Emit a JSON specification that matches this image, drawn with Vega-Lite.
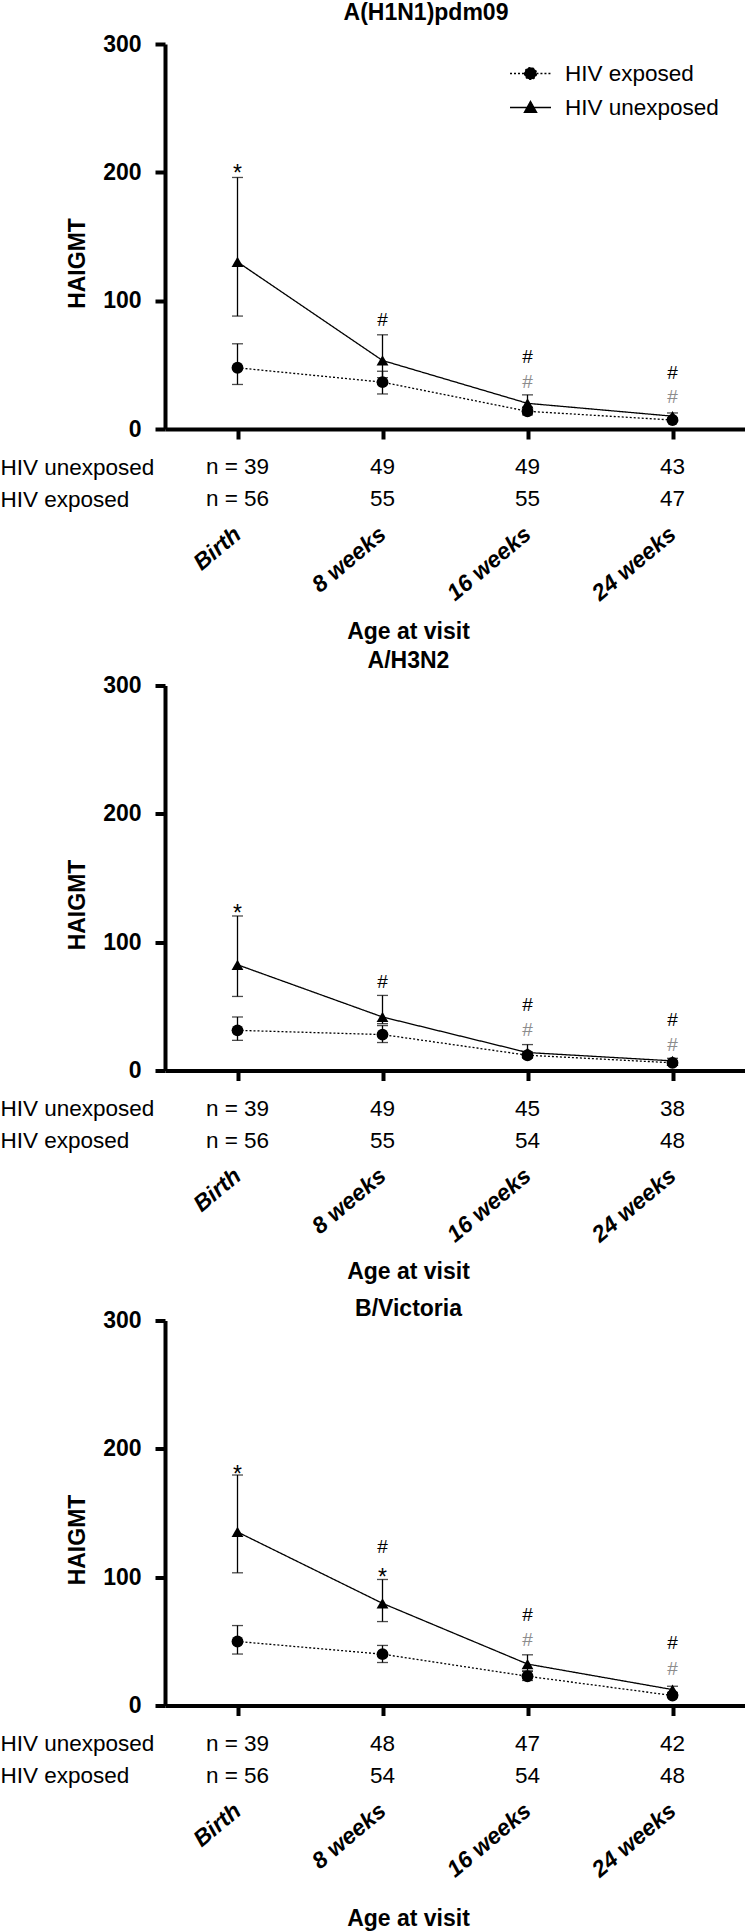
{
  "$schema": "https://vega.github.io/schema/vega-lite/v6.json",
  "padding": {"left": 0, "top": 2, "right": 0, "bottom": 0},
  "background": "white",
  "config": {
    "view": {"stroke": null},
    "font": "Liberation Sans",
    "axis": {"domainColor": "black", "domainWidth": 4, "tickColor": "black", "tickWidth": 4, "tickSize": 10, "labelFont": "Liberation Sans", "labelFontSize": 23, "labelFontWeight": "bold", "labelColor": "black", "titleFont": "Liberation Sans", "titleFontSize": 23, "titleFontWeight": "bold", "titleColor": "black", "grid": false},
    "title": {"font": "Liberation Sans", "fontSize": 23, "fontWeight": "bold", "color": "black"}
  },
  "datasets": {
    "gmt": [
      {"panel": "A(H1N1)pdm09", "group": "HIV exposed", "visit": "Birth", "gmt": 47.7, "lo": 34.7, "hi": 66.4},
      {"panel": "A(H1N1)pdm09", "group": "HIV exposed", "visit": "8 weeks", "gmt": 36.5, "lo": 27.3, "hi": 45},
      {"panel": "A(H1N1)pdm09", "group": "HIV exposed", "visit": "16 weeks", "gmt": 13.8, "lo": 11, "hi": 17},
      {"panel": "A(H1N1)pdm09", "group": "HIV exposed", "visit": "24 weeks", "gmt": 7, "lo": 5.8, "hi": 8.5},
      {"panel": "A(H1N1)pdm09", "group": "HIV unexposed", "visit": "Birth", "gmt": 130.2, "lo": 88, "hi": 196},
      {"panel": "A(H1N1)pdm09", "group": "HIV unexposed", "visit": "8 weeks", "gmt": 53.4, "lo": 40, "hi": 73.4},
      {"panel": "A(H1N1)pdm09", "group": "HIV unexposed", "visit": "16 weeks", "gmt": 20, "lo": 15, "hi": 26.6},
      {"panel": "A(H1N1)pdm09", "group": "HIV unexposed", "visit": "24 weeks", "gmt": 10, "lo": 7.5, "hi": 12.5},
      {"panel": "A/H3N2", "group": "HIV exposed", "visit": "Birth", "gmt": 31.3, "lo": 23.5, "hi": 41.7},
      {"panel": "A/H3N2", "group": "HIV exposed", "visit": "8 weeks", "gmt": 28, "lo": 21.8, "hi": 35},
      {"panel": "A/H3N2", "group": "HIV exposed", "visit": "16 weeks", "gmt": 11.9, "lo": 9.5, "hi": 14.5},
      {"panel": "A/H3N2", "group": "HIV exposed", "visit": "24 weeks", "gmt": 6, "lo": 5, "hi": 7.2},
      {"panel": "A/H3N2", "group": "HIV unexposed", "visit": "Birth", "gmt": 82.4, "lo": 57.7, "hi": 120.4},
      {"panel": "A/H3N2", "group": "HIV unexposed", "visit": "8 weeks", "gmt": 41.7, "lo": 36.5, "hi": 58.5},
      {"panel": "A/H3N2", "group": "HIV unexposed", "visit": "16 weeks", "gmt": 14, "lo": 10.5, "hi": 20.2},
      {"panel": "A/H3N2", "group": "HIV unexposed", "visit": "24 weeks", "gmt": 7.5, "lo": 6, "hi": 9.5},
      {"panel": "B/Victoria", "group": "HIV exposed", "visit": "Birth", "gmt": 49.9, "lo": 40.1, "hi": 62.3},
      {"panel": "B/Victoria", "group": "HIV exposed", "visit": "8 weeks", "gmt": 40, "lo": 33.5, "hi": 46.8},
      {"panel": "B/Victoria", "group": "HIV exposed", "visit": "16 weeks", "gmt": 22.8, "lo": 19.5, "hi": 26.5},
      {"panel": "B/Victoria", "group": "HIV exposed", "visit": "24 weeks", "gmt": 7.8, "lo": 6.5, "hi": 9.5},
      {"panel": "B/Victoria", "group": "HIV unexposed", "visit": "Birth", "gmt": 135.2, "lo": 103.4, "hi": 179.6},
      {"panel": "B/Victoria", "group": "HIV unexposed", "visit": "8 weeks", "gmt": 79.6, "lo": 65.4, "hi": 98.2},
      {"panel": "B/Victoria", "group": "HIV unexposed", "visit": "16 weeks", "gmt": 32.3, "lo": 27, "hi": 39.5},
      {"panel": "B/Victoria", "group": "HIV unexposed", "visit": "24 weeks", "gmt": 12.4, "lo": 10, "hi": 15}
    ],
    "ann": [
      {"panel": "A(H1N1)pdm09", "visit": "Birth", "label": "*", "test": "between groups", "gmt": 203},
      {"panel": "A(H1N1)pdm09", "visit": "8 weeks", "label": "#", "test": "HIV unexposed vs birth", "gmt": 84.7},
      {"panel": "A(H1N1)pdm09", "visit": "16 weeks", "label": "#", "test": "HIV unexposed vs birth", "gmt": 56},
      {"panel": "A(H1N1)pdm09", "visit": "16 weeks", "label": "#", "test": "HIV exposed vs birth", "gmt": 36.5},
      {"panel": "A(H1N1)pdm09", "visit": "24 weeks", "label": "#", "test": "HIV unexposed vs birth", "gmt": 43.7},
      {"panel": "A(H1N1)pdm09", "visit": "24 weeks", "label": "#", "test": "HIV exposed vs birth", "gmt": 24.8},
      {"panel": "A/H3N2", "visit": "Birth", "label": "*", "test": "between groups", "gmt": 126.4},
      {"panel": "A/H3N2", "visit": "8 weeks", "label": "#", "test": "HIV unexposed vs birth", "gmt": 68.9},
      {"panel": "A/H3N2", "visit": "16 weeks", "label": "#", "test": "HIV unexposed vs birth", "gmt": 50.7},
      {"panel": "A/H3N2", "visit": "16 weeks", "label": "#", "test": "HIV exposed vs birth", "gmt": 31.3},
      {"panel": "A/H3N2", "visit": "24 weeks", "label": "#", "test": "HIV unexposed vs birth", "gmt": 39},
      {"panel": "A/H3N2", "visit": "24 weeks", "label": "#", "test": "HIV exposed vs birth", "gmt": 20.2},
      {"panel": "B/Victoria", "visit": "Birth", "label": "*", "test": "between groups", "gmt": 184.3},
      {"panel": "B/Victoria", "visit": "8 weeks", "label": "#", "test": "HIV unexposed vs birth", "gmt": 123.6},
      {"panel": "B/Victoria", "visit": "8 weeks", "label": "*", "test": "between groups", "gmt": 104.2},
      {"panel": "B/Victoria", "visit": "16 weeks", "label": "#", "test": "HIV unexposed vs birth", "gmt": 70.5},
      {"panel": "B/Victoria", "visit": "16 weeks", "label": "#", "test": "HIV exposed vs birth", "gmt": 51.2},
      {"panel": "B/Victoria", "visit": "24 weeks", "label": "#", "test": "HIV unexposed vs birth", "gmt": 48.6},
      {"panel": "B/Victoria", "visit": "24 weeks", "label": "#", "test": "HIV exposed vs birth", "gmt": 28.4}
    ],
    "n": [
      {"panel": "A(H1N1)pdm09", "group": "HIV unexposed", "visit": "Birth", "label": "n = 39"},
      {"panel": "A(H1N1)pdm09", "group": "HIV unexposed", "visit": "8 weeks", "label": "49"},
      {"panel": "A(H1N1)pdm09", "group": "HIV unexposed", "visit": "16 weeks", "label": "49"},
      {"panel": "A(H1N1)pdm09", "group": "HIV unexposed", "visit": "24 weeks", "label": "43"},
      {"panel": "A(H1N1)pdm09", "group": "HIV exposed", "visit": "Birth", "label": "n = 56"},
      {"panel": "A(H1N1)pdm09", "group": "HIV exposed", "visit": "8 weeks", "label": "55"},
      {"panel": "A(H1N1)pdm09", "group": "HIV exposed", "visit": "16 weeks", "label": "55"},
      {"panel": "A(H1N1)pdm09", "group": "HIV exposed", "visit": "24 weeks", "label": "47"},
      {"panel": "A/H3N2", "group": "HIV unexposed", "visit": "Birth", "label": "n = 39"},
      {"panel": "A/H3N2", "group": "HIV unexposed", "visit": "8 weeks", "label": "49"},
      {"panel": "A/H3N2", "group": "HIV unexposed", "visit": "16 weeks", "label": "45"},
      {"panel": "A/H3N2", "group": "HIV unexposed", "visit": "24 weeks", "label": "38"},
      {"panel": "A/H3N2", "group": "HIV exposed", "visit": "Birth", "label": "n = 56"},
      {"panel": "A/H3N2", "group": "HIV exposed", "visit": "8 weeks", "label": "55"},
      {"panel": "A/H3N2", "group": "HIV exposed", "visit": "16 weeks", "label": "54"},
      {"panel": "A/H3N2", "group": "HIV exposed", "visit": "24 weeks", "label": "48"},
      {"panel": "B/Victoria", "group": "HIV unexposed", "visit": "Birth", "label": "n = 39"},
      {"panel": "B/Victoria", "group": "HIV unexposed", "visit": "8 weeks", "label": "48"},
      {"panel": "B/Victoria", "group": "HIV unexposed", "visit": "16 weeks", "label": "47"},
      {"panel": "B/Victoria", "group": "HIV unexposed", "visit": "24 weeks", "label": "42"},
      {"panel": "B/Victoria", "group": "HIV exposed", "visit": "Birth", "label": "n = 56"},
      {"panel": "B/Victoria", "group": "HIV exposed", "visit": "8 weeks", "label": "54"},
      {"panel": "B/Victoria", "group": "HIV exposed", "visit": "16 weeks", "label": "54"},
      {"panel": "B/Victoria", "group": "HIV exposed", "visit": "24 weeks", "label": "48"}
    ]
  },
  "spacing": 1.5,
  "resolve": {"scale": {"x": "independent", "y": "independent", "strokeDash": "independent", "color": "independent"}, "legend": {"strokeDash": "independent"}},
  "vconcat": [
    {
      "spacing": 10,
      "resolve": {"scale": {"x": "independent", "y": "independent"}},
      "vconcat": [
        {
          "width": 580, "height": 385,
          "title": {"text": "A(H1N1)pdm09", "dx": -29, "offset": -15, "frame": "group", "baseline": "bottom", "anchor": "middle"},
          "encoding": {"x": {"field": "visit", "type": "nominal", "sort": ["Birth", "8 weeks", "16 weeks", "24 weeks"], "scale": {"type": "point", "padding": 0.5}, "axis": {"labels": false, "title": null}}},
          "layer": [
            {"data": {"name": "gmt"}, "transform": [{"filter": "datum.panel == 'A(H1N1)pdm09'"}],
             "mark": {"type": "rule", "color": "black", "strokeWidth": 1.3},
             "encoding": {"y": {"field": "lo", "type": "quantitative", "scale": {"domain": [0, 300], "nice": false}, "axis": {"values": [0, 100, 200, 300], "title": "HAIGMT", "titleX": -88, "titleY": 219, "titleBaseline": "middle", "labelPadding": 14}}, "y2": {"field": "hi"}}},
            {"data": {"name": "gmt"}, "transform": [{"filter": "datum.panel == 'A(H1N1)pdm09'"}],
             "mark": {"type": "tick", "color": "black", "size": 11, "thickness": 1.3},
             "encoding": {"y": {"field": "lo", "type": "quantitative", "scale": {"domain": [0, 300], "nice": false}, "axis": {"values": [0, 100, 200, 300], "title": "HAIGMT", "titleX": -88, "titleY": 219, "titleBaseline": "middle", "labelPadding": 14}}}},
            {"data": {"name": "gmt"}, "transform": [{"filter": "datum.panel == 'A(H1N1)pdm09'"}],
             "mark": {"type": "tick", "color": "black", "size": 11, "thickness": 1.3},
             "encoding": {"y": {"field": "hi", "type": "quantitative", "scale": {"domain": [0, 300], "nice": false}, "axis": {"values": [0, 100, 200, 300], "title": "HAIGMT", "titleX": -88, "titleY": 219, "titleBaseline": "middle", "labelPadding": 14}}}},
            {"data": {"name": "gmt"}, "transform": [{"filter": "datum.panel == 'A(H1N1)pdm09'"}],
             "mark": {"type": "line", "color": "black", "strokeWidth": 1.3},
             "encoding": {
               "y": {"field": "gmt", "type": "quantitative", "scale": {"domain": [0, 300], "nice": false}, "axis": {"values": [0, 100, 200, 300], "title": "HAIGMT", "titleX": -88, "titleY": 219, "titleBaseline": "middle", "labelPadding": 14}},
               "strokeDash": {"field": "group", "type": "nominal", "scale": {"domain": ["HIV exposed", "HIV unexposed"], "range": [[2, 2], [1, 0]]},
                 "legend": {"title": null, "orient": "none", "legendX": 344, "legendY": 8, "padding": 0, "symbolSize": 1681, "symbolStrokeWidth": 1.3, "symbolStrokeColor": "black", "symbolFillColor": "black", "labelFont": "Liberation Sans", "labelFontSize": 22.5, "labelFontWeight": "normal", "labelColor": "black", "labelOffset": 13, "rowPadding": 1,
                   "encode": {"symbols": {"update": {"shape": {"signal": "datum.value === 'HIV exposed' ? 'M-1,0H-0.29M0.29,0H1M-0.29,0A0.29,0.29,0,1,0,0.29,0A0.29,0.29,0,1,0,-0.29,0Z' : 'M-1,0H1M0,-0.3L0.3,0.24L-0.3,0.24Z'"}, "fill": {"value": "black"}, "stroke": {"value": "black"}, "opacity": {"value": 1}}}}}}
             }},
            {"data": {"name": "gmt"}, "transform": [{"filter": "datum.panel == 'A(H1N1)pdm09'"}],
             "mark": {"type": "point", "filled": true, "color": "black", "opacity": 1, "size": 140},
             "encoding": {
               "y": {"field": "gmt", "type": "quantitative", "scale": {"domain": [0, 300], "nice": false}, "axis": {"values": [0, 100, 200, 300], "title": "HAIGMT", "titleX": -88, "titleY": 219, "titleBaseline": "middle", "labelPadding": 14}},
               "shape": {"condition": {"test": "datum.group === 'HIV exposed'", "value": "circle"}, "value": "triangle-up"}
             }},
            {"data": {"name": "ann"}, "transform": [{"filter": "datum.panel == 'A(H1N1)pdm09' && datum.label == '#'"}],
             "mark": {"type": "text", "font": "Liberation Sans", "fontSize": 19, "baseline": "middle", "align": "center"},
             "encoding": {
               "y": {"field": "gmt", "type": "quantitative", "scale": {"domain": [0, 300], "nice": false}, "axis": {"values": [0, 100, 200, 300], "title": "HAIGMT", "titleX": -88, "titleY": 219, "titleBaseline": "middle", "labelPadding": 14}},
               "text": {"field": "label"},
               "color": {"field": "test", "type": "nominal", "scale": {"domain": ["between groups", "HIV unexposed vs birth", "HIV exposed vs birth"], "range": ["black", "black", "#8c8c8c"]}, "legend": null}
             }},
            {"data": {"name": "ann"}, "transform": [{"filter": "datum.panel == 'A(H1N1)pdm09' && datum.label == '*'"}],
             "mark": {"type": "text", "font": "Liberation Sans", "fontSize": 23, "baseline": "middle", "align": "center", "dy": 6},
             "encoding": {
               "y": {"field": "gmt", "type": "quantitative", "scale": {"domain": [0, 300], "nice": false}, "axis": {"values": [0, 100, 200, 300], "title": "HAIGMT", "titleX": -88, "titleY": 219, "titleBaseline": "middle", "labelPadding": 14}},
               "text": {"field": "label"},
               "color": {"field": "test", "type": "nominal", "scale": {"domain": ["between groups", "HIV unexposed vs birth", "HIV exposed vs birth"], "range": ["black", "black", "#8c8c8c"]}, "legend": null}
             }}
          ]
        },
        {
          "width": 580, "height": 64,
          "data": {"name": "n"}, "transform": [{"filter": "datum.panel == 'A(H1N1)pdm09'"}],
          "mark": {"type": "text", "font": "Liberation Sans", "fontSize": 22.5, "color": "black"},
          "encoding": {
            "x": {"field": "visit", "type": "nominal", "sort": ["Birth", "8 weeks", "16 weeks", "24 weeks"], "scale": {"type": "point", "padding": 0.5},
              "axis": {"domain": false, "ticks": false, "tickSize": 0, "labelAngle": -40, "labelAlign": "right", "labelBaseline": "middle", "labelPadding": 16, "labelFontStyle": "italic", "labelFontWeight": "bold", "title": ["Age at visit", "A/H3N2"], "titleLineHeight": 29.5, "titleX": 243, "titlePadding": 15}},
            "y": {"field": "group", "type": "nominal", "sort": ["HIV unexposed", "HIV exposed"],
              "axis": {"domain": false, "ticks": false, "tickSize": 0, "labelAlign": "left", "labelPadding": 165, "labelFontWeight": "normal", "labelFontSize": 22.5, "title": null}},
            "text": {"field": "label"}
          }
        }
      ]
    },
    {
      "spacing": -15,
      "resolve": {"scale": {"x": "independent", "y": "independent", "strokeDash": "independent", "color": "independent"}},
      "vconcat": [
        {
          "spacing": 10,
          "resolve": {"scale": {"x": "independent", "y": "independent"}},
          "vconcat": [
            {
              "width": 580, "height": 385,
              "encoding": {"x": {"field": "visit", "type": "nominal", "sort": ["Birth", "8 weeks", "16 weeks", "24 weeks"], "scale": {"type": "point", "padding": 0.5}, "axis": {"labels": false, "title": null}}},
              "layer": [
                {"data": {"name": "gmt"}, "transform": [{"filter": "datum.panel == 'A/H3N2'"}],
                 "mark": {"type": "rule", "color": "black", "strokeWidth": 1.3},
                 "encoding": {"y": {"field": "lo", "type": "quantitative", "scale": {"domain": [0, 300], "nice": false}, "axis": {"values": [0, 100, 200, 300], "title": "HAIGMT", "titleX": -88, "titleY": 219, "titleBaseline": "middle", "labelPadding": 14}}, "y2": {"field": "hi"}}},
                {"data": {"name": "gmt"}, "transform": [{"filter": "datum.panel == 'A/H3N2'"}],
                 "mark": {"type": "tick", "color": "black", "size": 11, "thickness": 1.3},
                 "encoding": {"y": {"field": "lo", "type": "quantitative", "scale": {"domain": [0, 300], "nice": false}, "axis": {"values": [0, 100, 200, 300], "title": "HAIGMT", "titleX": -88, "titleY": 219, "titleBaseline": "middle", "labelPadding": 14}}}},
                {"data": {"name": "gmt"}, "transform": [{"filter": "datum.panel == 'A/H3N2'"}],
                 "mark": {"type": "tick", "color": "black", "size": 11, "thickness": 1.3},
                 "encoding": {"y": {"field": "hi", "type": "quantitative", "scale": {"domain": [0, 300], "nice": false}, "axis": {"values": [0, 100, 200, 300], "title": "HAIGMT", "titleX": -88, "titleY": 219, "titleBaseline": "middle", "labelPadding": 14}}}},
                {"data": {"name": "gmt"}, "transform": [{"filter": "datum.panel == 'A/H3N2'"}],
                 "mark": {"type": "line", "color": "black", "strokeWidth": 1.3},
                 "encoding": {
                   "y": {"field": "gmt", "type": "quantitative", "scale": {"domain": [0, 300], "nice": false}, "axis": {"values": [0, 100, 200, 300], "title": "HAIGMT", "titleX": -88, "titleY": 219, "titleBaseline": "middle", "labelPadding": 14}},
                   "strokeDash": {"field": "group", "type": "nominal", "scale": {"domain": ["HIV exposed", "HIV unexposed"], "range": [[2, 2], [1, 0]]}, "legend": null}
                 }},
                {"data": {"name": "gmt"}, "transform": [{"filter": "datum.panel == 'A/H3N2'"}],
                 "mark": {"type": "point", "filled": true, "color": "black", "opacity": 1, "size": 140},
                 "encoding": {
                   "y": {"field": "gmt", "type": "quantitative", "scale": {"domain": [0, 300], "nice": false}, "axis": {"values": [0, 100, 200, 300], "title": "HAIGMT", "titleX": -88, "titleY": 219, "titleBaseline": "middle", "labelPadding": 14}},
                   "shape": {"condition": {"test": "datum.group === 'HIV exposed'", "value": "circle"}, "value": "triangle-up"}
                 }},
                {"data": {"name": "ann"}, "transform": [{"filter": "datum.panel == 'A/H3N2' && datum.label == '#'"}],
                 "mark": {"type": "text", "font": "Liberation Sans", "fontSize": 19, "baseline": "middle", "align": "center"},
                 "encoding": {
                   "y": {"field": "gmt", "type": "quantitative", "scale": {"domain": [0, 300], "nice": false}, "axis": {"values": [0, 100, 200, 300], "title": "HAIGMT", "titleX": -88, "titleY": 219, "titleBaseline": "middle", "labelPadding": 14}},
                   "text": {"field": "label"},
                   "color": {"field": "test", "type": "nominal", "scale": {"domain": ["between groups", "HIV unexposed vs birth", "HIV exposed vs birth"], "range": ["black", "black", "#8c8c8c"]}, "legend": null}
                 }},
                {"data": {"name": "ann"}, "transform": [{"filter": "datum.panel == 'A/H3N2' && datum.label == '*'"}],
                 "mark": {"type": "text", "font": "Liberation Sans", "fontSize": 23, "baseline": "middle", "align": "center", "dy": 6},
                 "encoding": {
                   "y": {"field": "gmt", "type": "quantitative", "scale": {"domain": [0, 300], "nice": false}, "axis": {"values": [0, 100, 200, 300], "title": "HAIGMT", "titleX": -88, "titleY": 219, "titleBaseline": "middle", "labelPadding": 14}},
                   "text": {"field": "label"},
                   "color": {"field": "test", "type": "nominal", "scale": {"domain": ["between groups", "HIV unexposed vs birth", "HIV exposed vs birth"], "range": ["black", "black", "#8c8c8c"]}, "legend": null}
                 }}
              ]
            },
            {
              "width": 580, "height": 64,
              "data": {"name": "n"}, "transform": [{"filter": "datum.panel == 'A/H3N2'"}],
              "mark": {"type": "text", "font": "Liberation Sans", "fontSize": 22.5, "color": "black"},
              "encoding": {
                "x": {"field": "visit", "type": "nominal", "sort": ["Birth", "8 weeks", "16 weeks", "24 weeks"], "scale": {"type": "point", "padding": 0.5},
                  "axis": {"domain": false, "ticks": false, "tickSize": 0, "labelAngle": -40, "labelAlign": "right", "labelBaseline": "middle", "labelPadding": 16, "labelFontStyle": "italic", "labelFontWeight": "bold", "title": ["Age at visit", "B/Victoria"], "titleLineHeight": 36.7, "titleX": 243, "titlePadding": 14}},
                "y": {"field": "group", "type": "nominal", "sort": ["HIV unexposed", "HIV exposed"],
                  "axis": {"domain": false, "ticks": false, "tickSize": 0, "labelAlign": "left", "labelPadding": 165, "labelFontWeight": "normal", "labelFontSize": 22.5, "title": null}},
                "text": {"field": "label"}
              }
            }
          ]
        },
        {
          "spacing": 10,
          "resolve": {"scale": {"x": "independent", "y": "independent"}},
          "vconcat": [
            {
              "width": 580, "height": 385,
              "encoding": {"x": {"field": "visit", "type": "nominal", "sort": ["Birth", "8 weeks", "16 weeks", "24 weeks"], "scale": {"type": "point", "padding": 0.5}, "axis": {"labels": false, "title": null}}},
              "layer": [
                {"data": {"name": "gmt"}, "transform": [{"filter": "datum.panel == 'B/Victoria'"}],
                 "mark": {"type": "rule", "color": "black", "strokeWidth": 1.3},
                 "encoding": {"y": {"field": "lo", "type": "quantitative", "scale": {"domain": [0, 300], "nice": false}, "axis": {"values": [0, 100, 200, 300], "title": "HAIGMT", "titleX": -88, "titleY": 219, "titleBaseline": "middle", "labelPadding": 14}}, "y2": {"field": "hi"}}},
                {"data": {"name": "gmt"}, "transform": [{"filter": "datum.panel == 'B/Victoria'"}],
                 "mark": {"type": "tick", "color": "black", "size": 11, "thickness": 1.3},
                 "encoding": {"y": {"field": "lo", "type": "quantitative", "scale": {"domain": [0, 300], "nice": false}, "axis": {"values": [0, 100, 200, 300], "title": "HAIGMT", "titleX": -88, "titleY": 219, "titleBaseline": "middle", "labelPadding": 14}}}},
                {"data": {"name": "gmt"}, "transform": [{"filter": "datum.panel == 'B/Victoria'"}],
                 "mark": {"type": "tick", "color": "black", "size": 11, "thickness": 1.3},
                 "encoding": {"y": {"field": "hi", "type": "quantitative", "scale": {"domain": [0, 300], "nice": false}, "axis": {"values": [0, 100, 200, 300], "title": "HAIGMT", "titleX": -88, "titleY": 219, "titleBaseline": "middle", "labelPadding": 14}}}},
                {"data": {"name": "gmt"}, "transform": [{"filter": "datum.panel == 'B/Victoria'"}],
                 "mark": {"type": "line", "color": "black", "strokeWidth": 1.3},
                 "encoding": {
                   "y": {"field": "gmt", "type": "quantitative", "scale": {"domain": [0, 300], "nice": false}, "axis": {"values": [0, 100, 200, 300], "title": "HAIGMT", "titleX": -88, "titleY": 219, "titleBaseline": "middle", "labelPadding": 14}},
                   "strokeDash": {"field": "group", "type": "nominal", "scale": {"domain": ["HIV exposed", "HIV unexposed"], "range": [[2, 2], [1, 0]]}, "legend": null}
                 }},
                {"data": {"name": "gmt"}, "transform": [{"filter": "datum.panel == 'B/Victoria'"}],
                 "mark": {"type": "point", "filled": true, "color": "black", "opacity": 1, "size": 140},
                 "encoding": {
                   "y": {"field": "gmt", "type": "quantitative", "scale": {"domain": [0, 300], "nice": false}, "axis": {"values": [0, 100, 200, 300], "title": "HAIGMT", "titleX": -88, "titleY": 219, "titleBaseline": "middle", "labelPadding": 14}},
                   "shape": {"condition": {"test": "datum.group === 'HIV exposed'", "value": "circle"}, "value": "triangle-up"}
                 }},
                {"data": {"name": "ann"}, "transform": [{"filter": "datum.panel == 'B/Victoria' && datum.label == '#'"}],
                 "mark": {"type": "text", "font": "Liberation Sans", "fontSize": 19, "baseline": "middle", "align": "center"},
                 "encoding": {
                   "y": {"field": "gmt", "type": "quantitative", "scale": {"domain": [0, 300], "nice": false}, "axis": {"values": [0, 100, 200, 300], "title": "HAIGMT", "titleX": -88, "titleY": 219, "titleBaseline": "middle", "labelPadding": 14}},
                   "text": {"field": "label"},
                   "color": {"field": "test", "type": "nominal", "scale": {"domain": ["between groups", "HIV unexposed vs birth", "HIV exposed vs birth"], "range": ["black", "black", "#8c8c8c"]}, "legend": null}
                 }},
                {"data": {"name": "ann"}, "transform": [{"filter": "datum.panel == 'B/Victoria' && datum.label == '*'"}],
                 "mark": {"type": "text", "font": "Liberation Sans", "fontSize": 23, "baseline": "middle", "align": "center", "dy": 6},
                 "encoding": {
                   "y": {"field": "gmt", "type": "quantitative", "scale": {"domain": [0, 300], "nice": false}, "axis": {"values": [0, 100, 200, 300], "title": "HAIGMT", "titleX": -88, "titleY": 219, "titleBaseline": "middle", "labelPadding": 14}},
                   "text": {"field": "label"},
                   "color": {"field": "test", "type": "nominal", "scale": {"domain": ["between groups", "HIV unexposed vs birth", "HIV exposed vs birth"], "range": ["black", "black", "#8c8c8c"]}, "legend": null}
                 }}
              ]
            },
            {
              "width": 580, "height": 64,
              "data": {"name": "n"}, "transform": [{"filter": "datum.panel == 'B/Victoria'"}],
              "mark": {"type": "text", "font": "Liberation Sans", "fontSize": 22.5, "color": "black"},
              "encoding": {
                "x": {"field": "visit", "type": "nominal", "sort": ["Birth", "8 weeks", "16 weeks", "24 weeks"], "scale": {"type": "point", "padding": 0.5},
                  "axis": {"domain": false, "ticks": false, "tickSize": 0, "labelAngle": -40, "labelAlign": "right", "labelBaseline": "middle", "labelPadding": 16, "labelFontStyle": "italic", "labelFontWeight": "bold", "title": "Age at visit", "titleX": 243, "titlePadding": 26}},
                "y": {"field": "group", "type": "nominal", "sort": ["HIV unexposed", "HIV exposed"],
                  "axis": {"domain": false, "ticks": false, "tickSize": 0, "labelAlign": "left", "labelPadding": 165, "labelFontWeight": "normal", "labelFontSize": 22.5, "title": null}},
                "text": {"field": "label"}
              }
            }
          ]
        }
      ]
    }
  ]
}
